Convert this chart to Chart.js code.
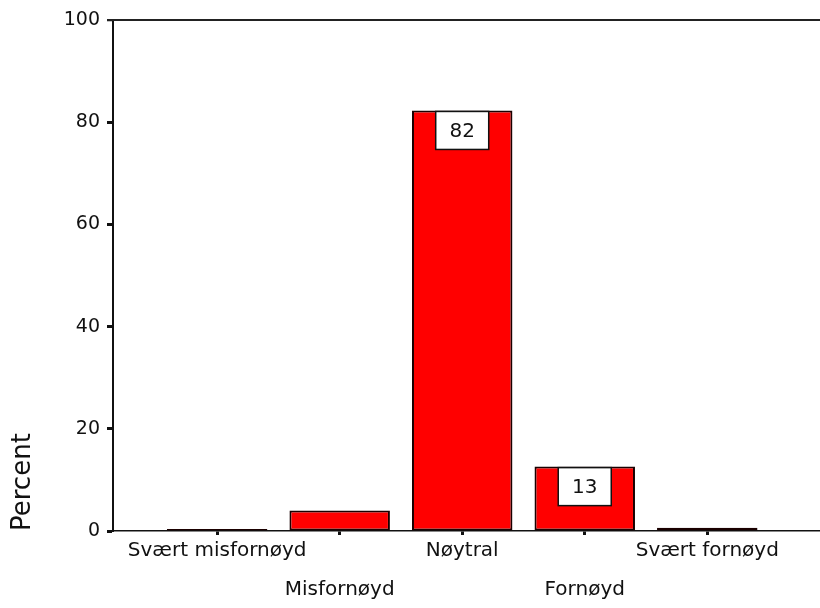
<!DOCTYPE html>
<html>
<head>
<meta charset="utf-8">
<script src="https://cdn.jsdelivr.net/npm/chart.js@4/dist/chart.umd.min.js"></script>
<style>
  html, body { margin: 0; padding: 0; background: #fff; }
</style>
</head>
<body>
<canvas id="chart" width="820" height="608"></canvas>
<script>
// data
const categories = ['Svært misfornøyd', 'Misfornøyd', 'Nøytral', 'Fornøyd', 'Svært fornøyd'];
const percentValues = [0.4, 4.0, 82.3, 12.6, 0.65];
const valueLabels = ['', '', '82', '13', ''];
const yTickValues = [0, 20, 40, 60, 80, 100];

const textColor = '#111';

// top frame line + white value boxes inside the bars
const frameAndBoxes = {
    id: 'frameAndBoxes',
    afterDatasetsDraw(chart) {
        const ctx = chart.ctx;
        const area = chart.chartArea;
        ctx.save();
        ctx.strokeStyle = '#222';
        ctx.lineWidth = 2;
        ctx.beginPath();
        ctx.moveTo(area.left - 6, area.top);
        ctx.lineTo(area.right, area.top);
        ctx.stroke();

        const meta = chart.getDatasetMeta(0);
        meta.data.forEach(function(bar, i) {
            const txt = valueLabels[i];
            if (!txt) return;
            const w = 53, h = 38;
            const x = bar.x - w / 2, y = bar.y + 1;
            ctx.fillStyle = '#fff';
            ctx.fillRect(x, y, w, h);
            ctx.strokeStyle = '#111';
            ctx.lineWidth = 1.5;
            ctx.strokeRect(x, y, w, h);
            ctx.fillStyle = textColor;
            ctx.font = '20px "DejaVu Sans"';
            ctx.textAlign = 'center';
            ctx.textBaseline = 'middle';
            ctx.fillText(txt, bar.x, y + h / 2 + 1);
        });
        ctx.restore();
    }
};

const ctx = document.getElementById('chart').getContext('2d');

new Chart(ctx, {
    type: 'bar',
    data: {
        datasets: [{
            label: 'Percent',
            data: categories.map(function(c, i) { return { x: i, y: percentValues[i] }; }),
            backgroundColor: '#ff0000',
            borderColor: '#1a0000',
            borderWidth: 2,
            borderSkipped: false,
            categoryPercentage: 1,
            barPercentage: 0.82
        }]
    },
    options: {
        responsive: false,
        animation: false,
        layout: { padding: { top: 20, left: 0, right: 0, bottom: 0 } },
        plugins: {
            legend: { display: false },
            tooltip: { enabled: false }
        },
        scales: {
            x: {
                type: 'linear',
                offset: false,
                min: -0.85,
                max: 4.92,
                afterBuildTicks: function(scale) {
                    scale.ticks = categories.map(function(c, i) { return { value: i }; });
                },
                afterFit: function(scale) { scale.height = 77; },
                grid: {
                    offset: false,
                    drawOnChartArea: false,
                    drawTicks: true,
                    tickLength: 4,
                    tickWidth: 3,
                    tickColor: '#111'
                },
                border: { display: true, color: '#111', width: 1.5 },
                ticks: {
                    autoSkip: false,
                    maxRotation: 0,
                    minRotation: 0,
                    padding: 6,
                    color: textColor,
                    font: { family: 'DejaVu Sans', size: 20, lineHeight: '19.5px' },
                    callback: function(value) {
                        const label = categories[value];
                        // stagger: every second label sits on the lower row
                        return value % 2 === 0 ? [label] : ['', '', label];
                    }
                }
            },
            y: {
                min: 0,
                max: 100,
                afterBuildTicks: function(scale) {
                    scale.ticks = yTickValues.map(function(v) { return { value: v }; });
                },
                afterFit: function(scale) { scale.width = 113; },
                grid: {
                    drawOnChartArea: false,
                    drawTicks: true,
                    tickLength: 6,
                    tickWidth: function(c) { return c.tick && c.tick.value === 100 ? 1.5 : 3; },
                    tickColor: '#111'
                },
                border: { display: true, color: '#111', width: 2 },
                ticks: {
                    padding: 7,
                    color: textColor,
                    font: { family: 'DejaVu Sans', size: 19 }
                },
                title: {
                    display: true,
                    text: 'Percent',
                    align: 'start',
                    color: textColor,
                    font: { family: 'DejaVu Sans', size: 26 },
                    padding: { top: 8, bottom: 0 }
                }
            }
        }
    },
    plugins: [frameAndBoxes]
});
</script>
</body>
</html>
